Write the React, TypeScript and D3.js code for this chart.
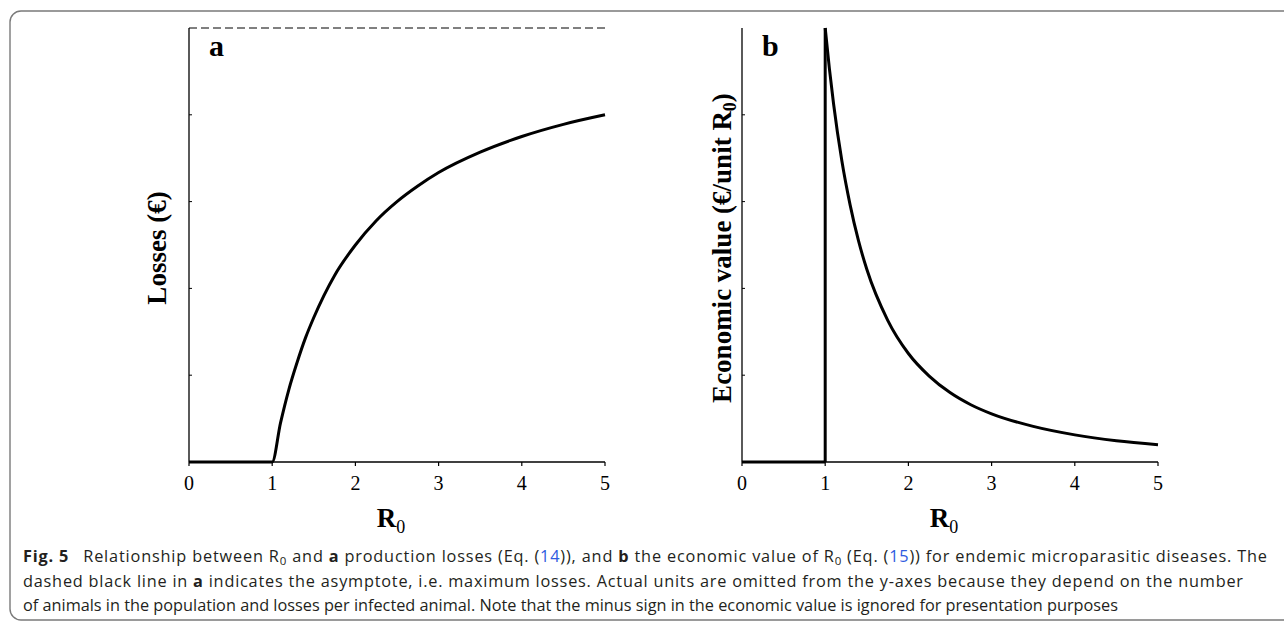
import React from "react";
import * as d3 from "d3";

// ---- data ----
const xTicks = [0, 1, 2, 3, 4, 5];
const yTicks = [0.2, 0.4, 0.6, 0.8];
const asymptote = 1;

// panel a: production losses (fraction of maximum)
const r0A = [0, 1, 1.1, 1.2, 1.3, 1.4, 1.5, 1.75, 2, 2.25, 2.5, 2.75, 3, 3.5, 4, 4.5, 5];
const lossesA = [0, 0, 0.09, 0.167, 0.23, 0.286, 0.333, 0.43, 0.5, 0.556, 0.6, 0.636, 0.667, 0.714, 0.75, 0.778, 0.8];

// panel b: economic value of R0
const r0BFlat = [0, 1];
const valueBFlat = [0, 0];
const r0BVert = [1, 1];
const valueBVert = [0, 1];
const r0B = [1, 1.05, 1.1, 1.2, 1.3, 1.4, 1.5, 1.75, 2, 2.25, 2.5, 2.75, 3, 3.5, 4, 4.5, 5];
const valueB = [1, 0.907, 0.826, 0.694, 0.592, 0.51, 0.444, 0.327, 0.25, 0.198, 0.16, 0.132, 0.111, 0.082, 0.0625, 0.049, 0.04];

const W = 1284;
const H = 622;
const TOP = 28;
const BOTTOM = 462;
const PW = 416;
const serif = "'Liberation Serif', 'Times New Roman', serif";
const sans = "'Open Sans', 'Noto Sans', sans-serif";
const blue = "#2f5be0";

function zip(xs: number[], ys: number[]): [number, number][] {
  return xs.map((x, i) => [x, ys[i]] as [number, number]);
}

function Panel({ left, label, children, yTitle, titleX }: any) {
  const x = d3.scaleLinear().domain([0, 5]).range([left, left + PW]);
  const y = d3.scaleLinear().domain([0, 1]).range([BOTTOM, TOP]);
  const cy = (TOP + BOTTOM) / 2 + 3;
  return (
    <g>
      {/* axes */}
      <line x1={x(0)} x2={x(0)} y1={y(1)} y2={y(0)} stroke="#000" strokeWidth={1.3} />
      <line x1={x(0)} x2={x(5)} y1={y(0)} y2={y(0)} stroke="#000" strokeWidth={1.3} />
      {yTicks.map((t) => (
        <line key={"y" + t} x1={x(0)} x2={x(0) + 3} y1={y(t)} y2={y(t)} stroke="#000" strokeWidth={1} />
      ))}
      {xTicks.map((t) => (
        <g key={"x" + t}>
          <line x1={x(t)} x2={x(t)} y1={y(0)} y2={y(0) + 4} stroke="#000" strokeWidth={1.2} />
          <text x={x(t)} y={y(0) + 28} textAnchor="middle" fontFamily={serif} fontSize={20} fill="#000">
            {t}
          </text>
        </g>
      ))}
      {children(x, y)}
      <text x={left + 20} y={56} fontFamily={serif} fontWeight="bold" fontSize={30} fill="#000">
        {label}
      </text>
      <text x={left + PW / 2 - 6} y={527} textAnchor="middle" fontFamily={serif} fill="#000">
        <tspan fontWeight="bold" fontSize={27}>R</tspan>
        <tspan fontSize={18} dy={6}>0</tspan>
      </text>
      <text
        transform={`translate(${titleX},${cy}) rotate(-90)`}
        textAnchor="middle"
        fontFamily={serif}
        fontWeight="bold"
        fontSize={27}
        fill="#000"
      >
        {yTitle}
      </text>
    </g>
  );
}

export default function App() {
  const lineMono = d3
    .line<[number, number]>()
    .curve(d3.curveMonotoneX);

  return (
    <svg width={W} height={H} style={{ position: "absolute", left: 0, top: 0, background: "#fff" }}>
      <rect x={0} y={0} width={W} height={H} fill="#fff" />
      <rect x={10} y={11} width={1300} height={609} rx={11} fill="none" stroke="#7a7a7a" strokeWidth={1.4} />

      <Panel
        left={189}
        label="a"
        titleX={166}
        yTitle={<>Losses (€)</>}
      >
        {(x: any, y: any) => {
          const l = lineMono.x((d) => x(d[0])).y((d) => y(d[1]));
          return (
            <g>
              <line
                x1={x(0)}
                x2={x(5)}
                y1={y(asymptote)}
                y2={y(asymptote)}
                stroke="#000"
                strokeWidth={1}
                strokeDasharray="8,4"
              />
              <path d={l(zip(r0A, lossesA)) || ""} fill="none" stroke="#000" strokeWidth={3} strokeLinejoin="round" />
            </g>
          );
        }}
      </Panel>

      <Panel
        left={742}
        label="b"
        titleX={731}
        yTitle={
          <>
            Economic value (€/unit R<tspan fontSize={18} dy={5}>0</tspan>
            <tspan dy={-5}>)</tspan>
          </>
        }
      >
        {(x: any, y: any) => {
          const l = d3.line<[number, number]>().x((d) => x(d[0])).y((d) => y(d[1]));
          const lm = d3
            .line<[number, number]>()
            .curve(d3.curveMonotoneX)
            .x((d) => x(d[0]))
            .y((d) => y(d[1]));
          return (
            <g>
              <path d={l(zip(r0BFlat, valueBFlat)) || ""} fill="none" stroke="#000" strokeWidth={3} />
              <path d={l(zip(r0BVert, valueBVert)) || ""} fill="none" stroke="#000" strokeWidth={3} />
              <path d={lm(zip(r0B, valueB)) || ""} fill="none" stroke="#000" strokeWidth={3} strokeLinejoin="round" />
            </g>
          );
        }}
      </Panel>

      {/* caption */}
      <g fontFamily={sans} fontSize={16.3} fill="#231f20">
        <text x={23} y={562} textLength={1244} lengthAdjust="spacing">
          <tspan fontWeight="bold">Fig. 5</tspan>
          <tspan>{"\u2002 Relationship between R"}</tspan>
          <tspan fontSize={11.5} dy={3}>0</tspan>
          <tspan dy={-3}> and </tspan>
          <tspan fontWeight="bold">a</tspan>
          <tspan> production losses (Eq. (</tspan>
          <tspan fill={blue}>14</tspan>
          <tspan>)), and </tspan>
          <tspan fontWeight="bold">b</tspan>
          <tspan> the economic value of R</tspan>
          <tspan fontSize={11.5} dy={3}>0</tspan>
          <tspan dy={-3}> (Eq. (</tspan>
          <tspan fill={blue}>15</tspan>
          <tspan>)) for endemic microparasitic diseases. The</tspan>
        </text>
        <text x={23} y={587} textLength={1220} lengthAdjust="spacing">
          <tspan>dashed black line in </tspan>
          <tspan fontWeight="bold">a</tspan>
          <tspan>
            {" "}indicates the asymptote, i.e. maximum losses. Actual units are omitted from the y-axes because they depend on the number
          </tspan>
        </text>
        <text x={23} y={611}>
          of animals in the population and losses per infected animal. Note that the minus sign in the economic value is ignored for presentation purposes
        </text>
      </g>
    </svg>
  );
}
